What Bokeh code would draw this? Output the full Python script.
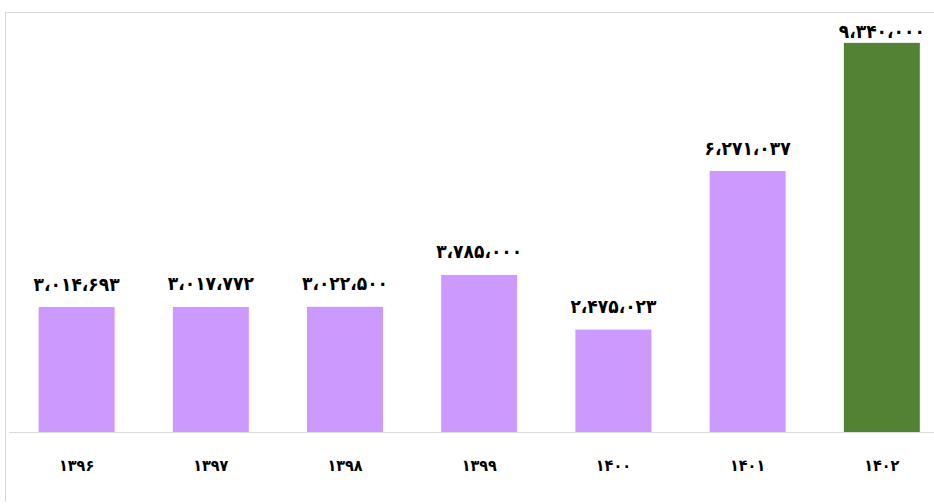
from bokeh.plotting import figure
from bokeh.models import ColumnDataSource, Range1d, FixedTicker
from bokeh.core.properties import value
from bokeh.embed import file_html
from bokeh.resources import INLINE

# ---- data ----
years = ["1396", "1397", "1398", "1399", "1400", "1401", "1402"]
values = [3014693, 3017772, 3022500, 3785000, 2475023, 6271037, 9340000]
colors = ["#CC99FF", "#CC99FF", "#CC99FF", "#CC99FF", "#CC99FF", "#CC99FF", "#548235"]

PERSIAN = str.maketrans("0123456789,", "۰۱۲۳۴۵۶۷۸۹،")


def fa(s):
    return s.translate(PERSIAN)


Y_MAX = 10.03e6
FRAME_H = 419
per_px = Y_MAX / FRAME_H

xs = [i + 0.5 for i in range(len(years))]
labels = [fa(f"{v:,}") for v in values]
# label centre ~23px above the bar, but kept inside the plot area (like Excel)
label_y = [min(v + 23 * per_px, Y_MAX - 17 * per_px) for v in values]

src = ColumnDataSource(dict(x=xs, top=values, color=colors, label=labels, ly=label_y))

FONT = "DejaVu Sans Condensed"

p = figure(width=929, height=490, output_backend="svg", toolbar_location=None,
           x_range=Range1d(0, 6.9), y_range=Range1d(0, Y_MAX),
           min_border_left=3, min_border_right=0, min_border_top=0,
           min_border_bottom=71)
p.margin = (12, 0, 0, 5)
p.styles = {"border-left": "1px solid #d9d9d9", "border-top": "1px solid #d9d9d9"}
p.outline_line_color = None
p.xgrid.visible = False
p.ygrid.visible = False
p.yaxis.visible = False

p.vbar(x="x", top="top", bottom=0, width=0.574, fill_color="color",
       line_color="#ffffff", line_width=1, source=src)

p.text(x="x", y="ly", text="label", source=src, text_align="center",
       text_baseline="middle", text_font=value(FONT),
       text_font_size="19px", text_font_style="bold", text_color="#000000")

ax = p.xaxis[0]
ax.ticker = FixedTicker(ticks=xs)
ax.major_label_overrides = {x: fa(y) for x, y in zip(xs, years)}
ax.axis_line_color = "#d9d9d9"
ax.axis_line_width = 1
ax.major_tick_line_color = None
ax.minor_tick_line_color = None
ax.major_label_standoff = 17
ax.major_label_text_font = FONT
ax.major_label_text_font_size = "16px"
ax.major_label_text_font_style = "bold"
ax.major_label_text_color = "#000000"

open("out.html", "w").write(file_html(p, INLINE))
